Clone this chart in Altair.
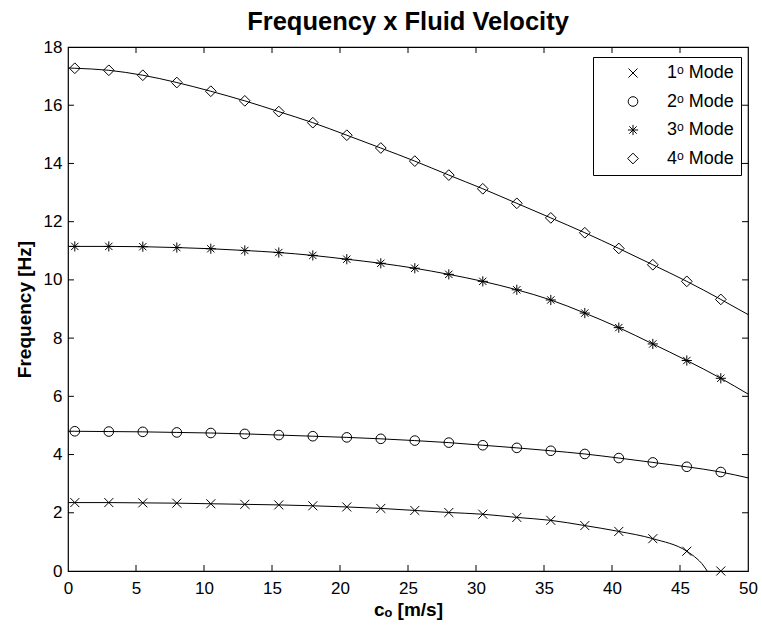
import altair as alt
import pandas as pd

# ---- data ----
x_markers = [0.5, 3, 5.5, 8, 10.5, 13, 15.5, 18, 20.5, 23, 25.5, 28, 30.5, 33, 35.5, 38, 40.5, 43, 45.5, 48]
mode1 = [2.35, 2.35, 2.34, 2.33, 2.31, 2.29, 2.27, 2.24, 2.20, 2.15, 2.08, 2.01, 1.95, 1.84, 1.74, 1.56, 1.36, 1.11, 0.68, 0.0]
mode2 = [4.80, 4.79, 4.78, 4.76, 4.74, 4.71, 4.67, 4.63, 4.59, 4.54, 4.48, 4.41, 4.32, 4.23, 4.13, 4.02, 3.88, 3.73, 3.58, 3.40]
mode3 = [11.15, 11.15, 11.14, 11.11, 11.07, 11.01, 10.94, 10.84, 10.71, 10.57, 10.40, 10.19, 9.95, 9.66, 9.31, 8.86, 8.36, 7.80, 7.23, 6.62]
mode4 = [17.27, 17.20, 17.03, 16.78, 16.48, 16.15, 15.78, 15.40, 14.97, 14.53, 14.08, 13.60, 13.13, 12.63, 12.13, 11.62, 11.08, 10.52, 9.95, 9.33]

# continuous curves (start at 0, end at 50; mode 1 ends where it reaches 0)
line_start = [2.35, 4.80, 11.15, 17.28]
line_end_x = [50, 50, 50]
line_end = [3.20, 6.08, 8.81]
mode1_tail_x = [46.25, 46.6, 47.0]
mode1_tail = [0.42, 0.26, 0.0]

mode_names = ["1ᵒ Mode", "2ᵒ Mode", "3ᵒ Mode", "4ᵒ Mode"]
x_ticks = [0, 5, 10, 15, 20, 25, 30, 35, 40, 45, 50]
y_ticks = [0, 2, 4, 6, 8, 10, 12, 14, 16, 18]

# ---- styles ----
shapes = [
    "M-1,-1L1,1M-1,1L1,-1",
    "circle",
    "M-1,0L1,0M0,-1L0,1M-0.72,-0.72L0.72,0.72M-0.72,0.72L0.72,-0.72",
    "diamond",
]
sizes = [81, 115, 110, 170]
FONT = "Liberation Sans"

# ---- tables ----
series = [mode1, mode2, mode3, mode4]
mk_rows = []
for name, vals in zip(mode_names, series):
    for xv, yv in zip(x_markers, vals):
        mk_rows.append({"x": xv, "y": yv, "mode": name})
markers = pd.DataFrame(mk_rows)

ln_rows = []
for i, (name, vals) in enumerate(zip(mode_names, series)):
    xs = [0] + list(x_markers)
    ys = [line_start[i]] + list(vals)
    if i == 0:
        xs = xs[:-1] + mode1_tail_x
        ys = ys[:-1] + mode1_tail
    else:
        xs = xs + [line_end_x[i - 1]]
        ys = ys + [line_end[i - 1]]
    for xv, yv in zip(xs, ys):
        ln_rows.append({"x": xv, "y": yv, "mode": name})
lines = pd.DataFrame(ln_rows)

XLEN = 0.44   # inward tick length in x data units
YLEN = 0.206  # inward tick length in y data units
tick_rows = []
for t in x_ticks[1:-1]:
    tick_rows.append({"x": t, "x2": t, "y": 0, "y2": YLEN})
    tick_rows.append({"x": t, "x2": t, "y": 18, "y2": 18 - YLEN})
for t in y_ticks[1:-1]:
    tick_rows.append({"x": 0, "x2": XLEN, "y": t, "y2": t})
    tick_rows.append({"x": 50, "x2": 50 - XLEN, "y": t, "y2": t})
ticks = pd.DataFrame(tick_rows)

xscale = alt.Scale(domain=[0, 50], nice=False, zero=False)
yscale = alt.Scale(domain=[0, 18], nice=False, zero=False)

xaxis = alt.Axis(values=x_ticks, tickSize=0, domain=False, grid=False, labelFontSize=17,
                 labelFont=FONT, labelColor="black", labelPadding=9, labelFlush=False,
                 title="cₒ [m/s]", titleFont=FONT, titleFontSize=19, titleFontWeight="bold",
                 titleColor="black", titlePadding=4)
yaxis = alt.Axis(values=y_ticks, tickSize=0, domain=False, grid=False, labelFontSize=17,
                 labelFont=FONT, labelColor="black", labelPadding=6, labelFlush=False,
                 title="Frequency [Hz]", titleFont=FONT, titleFontSize=19, titleFontWeight="bold",
                 titleColor="black", titlePadding=9)

legend_kw = dict(title=None, orient="none", legendX=525, legendY=10, padding=7,
                 rowPadding=10.5, labelFontSize=18, labelFont=FONT, labelColor="black",
                 labelLimit=0, symbolOffset=24, labelOffset=25, strokeColor="black",
                 fillColor="white", cornerRadius=0, symbolStrokeColor="black",
                 symbolFillColor="transparent", symbolStrokeWidth=1)

tick_layer = alt.Chart(ticks).mark_rule(color="black", strokeWidth=1).encode(
    x=alt.X("x:Q", scale=xscale, axis=xaxis),
    x2="x2:Q",
    y=alt.Y("y:Q", scale=yscale, axis=yaxis),
    y2="y2:Q",
)

line_layer = alt.Chart(lines).mark_line(color="black", strokeWidth=1, interpolate="monotone").encode(
    x=alt.X("x:Q", scale=xscale, axis=xaxis),
    y=alt.Y("y:Q", scale=yscale, axis=yaxis),
    detail="mode:N",
)

marker_layer = alt.Chart(markers).mark_point(filled=False, color="black", strokeWidth=1, opacity=1).encode(
    x=alt.X("x:Q", scale=xscale, axis=xaxis),
    y=alt.Y("y:Q", scale=yscale, axis=yaxis),
    shape=alt.Shape("mode:N", scale=alt.Scale(domain=mode_names, range=shapes),
                    legend=alt.Legend(**legend_kw)),
    size=alt.Size("mode:N", scale=alt.Scale(domain=mode_names, range=sizes),
                  legend=alt.Legend(**legend_kw)),
)

chart = alt.layer(tick_layer, line_layer, marker_layer).properties(
    width=680,
    height=524,
    title=alt.TitleParams("Frequency x Fluid Velocity", font=FONT, fontSize=25.5,
                          fontWeight="bold", color="black", anchor="middle", offset=3),
    autosize=alt.AutoSizeParams(type="none"),
    padding={"left": 68, "top": 47, "right": 14, "bottom": 54},
    background="white",
).configure_view(stroke="black", strokeWidth=1.2)

chart.save("out.html", embed_options={"renderer": "svg", "actions": False})
